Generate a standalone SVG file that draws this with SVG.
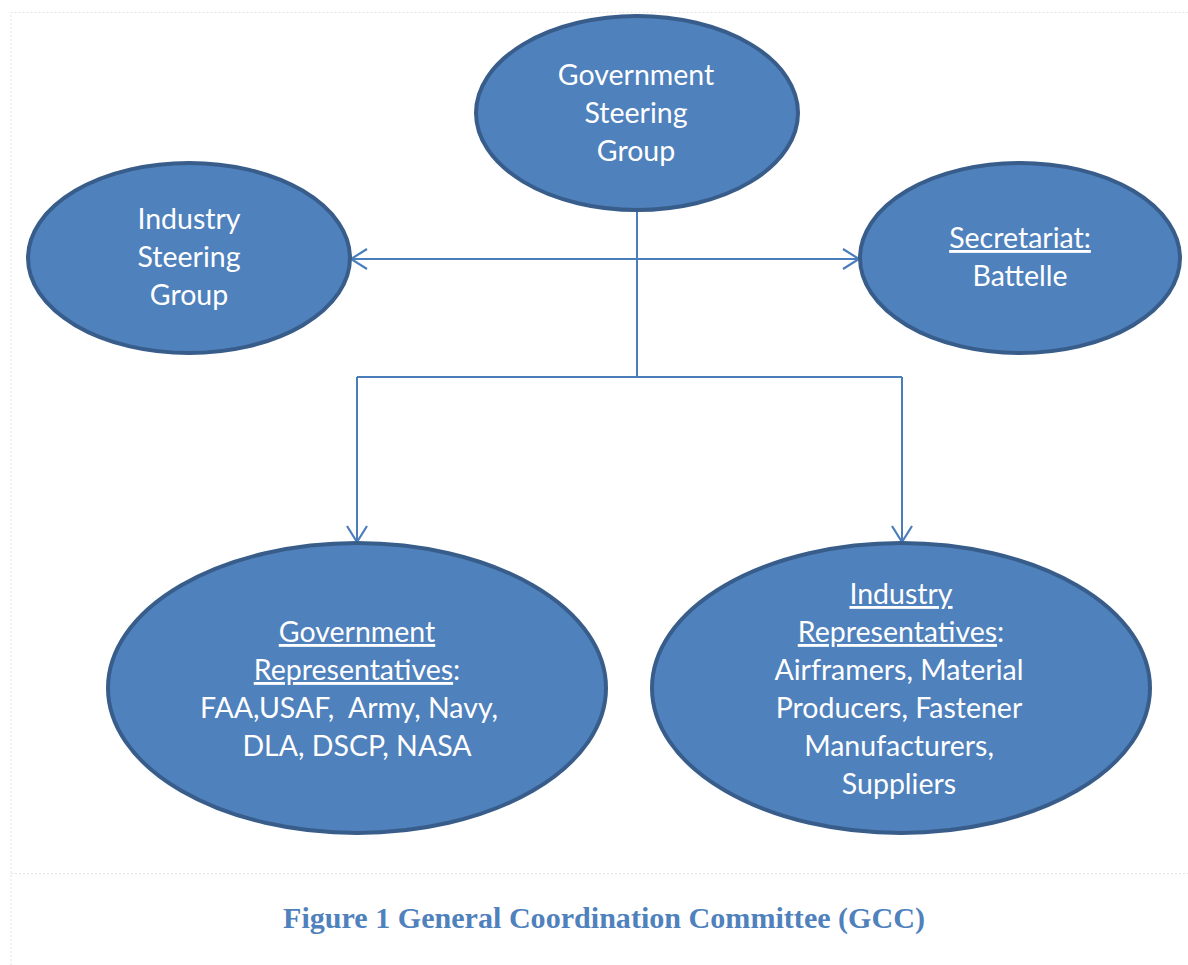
<svg xmlns="http://www.w3.org/2000/svg" width="1188" height="965" viewBox="0 0 1188 965">
  <style>
    .node { fill: #4f81bd; stroke: #385d8a; stroke-width: 4; }
    .lbl { font-family: Lato, "Open Sans", sans-serif; font-size: 28.5px; fill: #ffffff; text-anchor: middle; }
    .u { text-decoration: underline; }
    .conn { fill: none; stroke: #4a7ebb; stroke-width: 2; }
    .frame { fill: none; stroke: #e4e4e4; stroke-width: 1; stroke-dasharray: 2 2; }
    .caption { font-family: "Liberation Serif", "DejaVu Serif", serif; font-weight: bold; font-size: 29px; fill: #4f81bd; text-anchor: middle; }
  </style>
  <defs>
    <marker id="open" viewBox="0 0 20 24" refX="18" refY="12" markerWidth="20" markerHeight="24" markerUnits="userSpaceOnUse" orient="auto-start-reverse">
      <path d="M2,2 L18,12 L2,22" fill="none" stroke="#4a7ebb" stroke-width="2.2"/>
    </marker>
  </defs>
  <rect width="1188" height="965" fill="#ffffff"/>

  <!-- page frame -->
  <g id="frame">
    <path class="frame" d="M11,965 V12.5 H1188"/>
    <path class="frame" d="M11,873.5 H1188"/>
  </g>

  <!-- connectors -->
  <g id="connectors">
    <path class="conn" d="M637,211 V377"/>
    <path class="conn" d="M351,259 H859" marker-start="url(#open)" marker-end="url(#open)"/>
    <path class="conn" d="M357,377 H902"/>
    <path class="conn" d="M357,377 V542" marker-end="url(#open)"/>
    <path class="conn" d="M902,377 V542" marker-end="url(#open)"/>
  </g>

  <g id="gov-steering">
    <ellipse class="node" cx="637" cy="113" rx="161" ry="97"/>
    <text class="lbl" x="636" y="85">Government</text>
    <text class="lbl" x="636" y="123">Steering</text>
    <text class="lbl" x="636" y="161">Group</text>
  </g>

  <g id="industry-steering">
    <ellipse class="node" cx="189" cy="258" rx="161" ry="95"/>
    <text class="lbl" x="189" y="229">Industry</text>
    <text class="lbl" x="189" y="267">Steering</text>
    <text class="lbl" x="189" y="305">Group</text>
  </g>

  <g id="secretariat">
    <ellipse class="node" cx="1020" cy="258" rx="160" ry="95"/>
    <text class="lbl" x="1020" y="248"><tspan class="u">Secretariat:</tspan></text>
    <text class="lbl" x="1020" y="286">Battelle</text>
  </g>

  <g id="gov-reps">
    <ellipse class="node" cx="357" cy="688" rx="249" ry="145"/>
    <text class="lbl" x="357" y="642"><tspan class="u">Government</tspan></text>
    <text class="lbl" x="357" y="680"><tspan class="u">Representatives</tspan>:</text>
    <text class="lbl" x="349" y="718" xml:space="preserve">FAA,USAF,  Army, Navy,</text>
    <text class="lbl" x="357" y="756">DLA, DSCP, NASA</text>
  </g>

  <g id="industry-reps">
    <ellipse class="node" cx="901" cy="688" rx="249" ry="145"/>
    <text class="lbl" x="901" y="604"><tspan class="u">Industry</tspan></text>
    <text class="lbl" x="901" y="642"><tspan class="u">Representatives</tspan>:</text>
    <text class="lbl" x="899" y="680">Airframers, Material</text>
    <text class="lbl" x="899" y="718">Producers, Fastener</text>
    <text class="lbl" x="899" y="756">Manufacturers,</text>
    <text class="lbl" x="899" y="794">Suppliers</text>
  </g>

  <text class="caption" x="604" y="928" textLength="642" lengthAdjust="spacingAndGlyphs">Figure 1 General Coordination Committee (GCC)</text>
</svg>
